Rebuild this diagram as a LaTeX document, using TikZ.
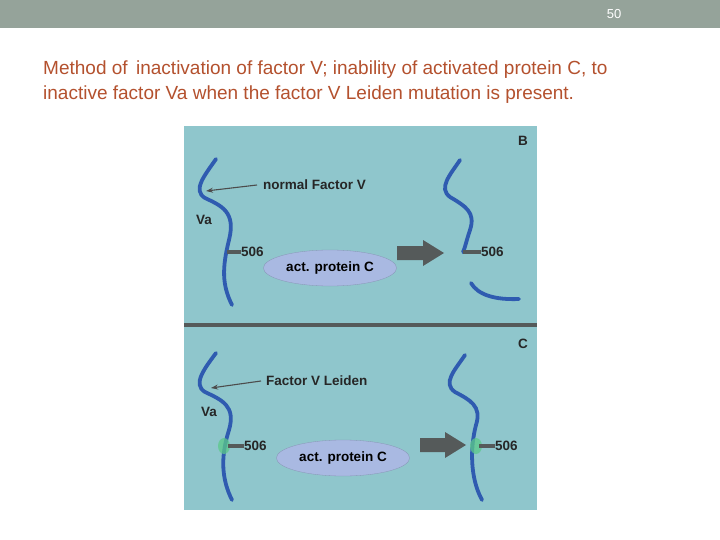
\documentclass[tikz,border=0pt]{standalone}
\usepackage{fontspec}
\setmainfont{Liberation Sans}
\usetikzlibrary{shapes.geometric,arrows.meta}
\definecolor{hdr}{HTML}{95A39A}
\definecolor{ttl}{HTML}{B4512E}
\definecolor{pnl}{HTML}{8FC6CC}
\definecolor{strand}{HTML}{2F5BB0}
\definecolor{ell}{HTML}{A9B9E2}
\definecolor{dk}{HTML}{555A5A}
\definecolor{grn}{HTML}{5CC98A}
\begin{document}
\begin{tikzpicture}[x=1pt,y=-1pt,
  strandline/.style={strand,line width=3.8pt,line cap=round},
  lbl/.style={font=\fontsize{13.5}{16}\selectfont\bfseries,text=black!85,inner sep=0pt},
  tick/.style={dk,line width=3.2pt},
  ptr/.style={gray!60!black,line width=1.1pt,-{Stealth[length=7pt,width=5pt]}},
  enz/.style={ellipse,fill=ell,minimum width=132pt,minimum height=36pt,font=\fontsize{13.5}{16}\selectfont\bfseries,draw=ell!80!black,line width=0.3pt},
  blob/.style={ellipse,fill=grn,fill opacity=0.75,minimum width=12pt,minimum height=16pt,inner sep=0pt}]
\useasboundingbox (0,0) rectangle (720,540);
\fill[white] (0,0) rectangle (720,540);
\fill[hdr] (0,0) rectangle (720,28);
\node[text=white,font=\fontsize{13}{14}\selectfont] (pg) at (614,14) {50};
\node[anchor=west,text=ttl,font=\fontsize{19}{22}\selectfont,inner sep=0pt] (t1) at (43,70) {Method of\, inactivation of factor V; inability of activated protein C, to};
\node[anchor=west,text=ttl,font=\fontsize{19}{22}\selectfont,inner sep=0pt] (t2) at (43,95) {inactive factor Va when the factor V Leiden mutation is present.};
\fill[pnl] (184,126) rectangle (537,510);
\draw[dk,line width=4pt] (184,325) -- (537,325);
% panel B
\node[lbl] (B) at (523,141) {B};
\draw[strandline] (216,159) .. controls (205,175) and (192,190) .. (205,198) .. controls (222,206) and (236,212) .. (229,240) .. controls (222,268) and (222,285) .. (232,305);
\coordinate (tipB) at (206,191);
\node[lbl,anchor=west] (nfv) at (263,185) {normal Factor V};
\draw[ptr] (nfv.west) ++(-6,0) -- (tipB);
\node[lbl,anchor=west] (vaB) at (196,220) {Va};
\coordinate (kB) at (227,252);
\node[lbl,anchor=west] (n1) at (241,252) {506};
\draw[tick] (kB) -- (n1.west);
\node[enz] (e1) at (330,268) {act. protein C};
\fill[dk] (397,246) -- (423,246) -- (423,240) -- (444,253) -- (423,266) -- (423,260) -- (397,260) -- cycle;
\draw[strandline] (460,160) .. controls (450,175) and (438,188) .. (450,197) .. controls (465,206) and (476,212) .. (470,230) .. controls (466,242) and (465,248) .. (463,252);
\coordinate (kB2) at (463,252);
\node[lbl,anchor=west] (n2) at (481,252) {506};
\draw[tick] (kB2) -- (n2.west);
\draw[strandline] (471,283) .. controls (478,295) and (495,300) .. (519,299);
% panel C
\node[lbl] (C) at (523,344) {C};
\draw[strandline] (216,353) .. controls (205,368) and (192,384) .. (205,392) .. controls (222,400) and (236,406) .. (229,430) .. controls (220,458) and (222,480) .. (232,500);
\node[blob] (g1) at (224,446) {};
\coordinate (tipC) at (211,388);
\node[lbl,anchor=west] (flv) at (266,381) {Factor V Leiden};
\draw[ptr] (flv.west) ++(-5,0) -- (tipC);
\node[lbl,anchor=west] (vaC) at (201,412) {Va};
\node[lbl,anchor=west] (n3) at (244,446) {506};
\draw[tick] (228,446) -- (n3.west);
\node[enz,minimum width=128pt] (e2) at (343,458) {act. protein C};
\fill[dk] (420,438) -- (445,438) -- (445,432) -- (466,445) -- (445,458) -- (445,452) -- (420,452) -- cycle;
\draw[strandline] (465,355) .. controls (455,370) and (442,383) .. (455,392) .. controls (470,400) and (482,406) .. (476,425) .. controls (470,448) and (470,478) .. (482,500);
\node[blob] (g2) at (476,446) {};
\node[lbl,anchor=west] (n4) at (495,446) {506};
\draw[tick] (479,446) -- (n4.west);
\end{tikzpicture}
\end{document}
